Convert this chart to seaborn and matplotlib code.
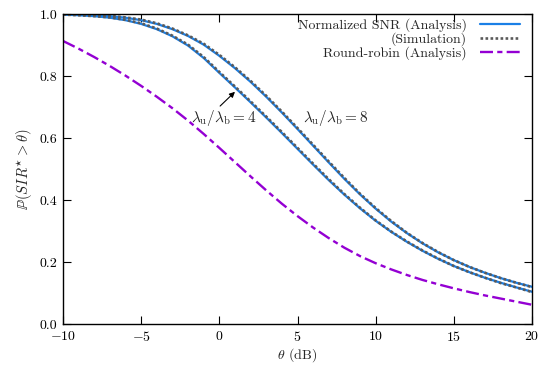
import seaborn as sns
import matplotlib.pyplot as plt
import pandas as pd

# SIR coverage vs threshold
theta_db = list(range(-10, 21))

snr_ana_8 = [0.999, 0.998, 0.996, 0.993, 0.988, 0.980, 0.968, 0.951, 0.929, 0.901,
             0.865, 0.825, 0.781, 0.733, 0.682, 0.629, 0.575, 0.521, 0.468, 0.418,
             0.372, 0.330, 0.293, 0.260, 0.231, 0.206, 0.184, 0.165, 0.148, 0.133, 0.120]
snr_sim_8 = [0.999, 0.998, 0.997, 0.994, 0.989, 0.982, 0.970, 0.953, 0.931, 0.904,
             0.868, 0.828, 0.784, 0.736, 0.685, 0.632, 0.578, 0.524, 0.471, 0.420,
             0.374, 0.332, 0.294, 0.261, 0.232, 0.206, 0.184, 0.165, 0.148, 0.133, 0.119]
snr_ana_4 = [0.998, 0.996, 0.993, 0.988, 0.980, 0.968, 0.951, 0.928, 0.898, 0.858,
             0.810, 0.763, 0.715, 0.666, 0.616, 0.565, 0.514, 0.464, 0.417, 0.373,
             0.333, 0.297, 0.265, 0.236, 0.210, 0.187, 0.167, 0.149, 0.133, 0.118, 0.104]
snr_sim_4 = [0.998, 0.996, 0.993, 0.989, 0.981, 0.970, 0.953, 0.930, 0.901, 0.861,
             0.813, 0.766, 0.718, 0.669, 0.619, 0.568, 0.517, 0.467, 0.419, 0.375,
             0.334, 0.298, 0.266, 0.237, 0.211, 0.187, 0.167, 0.149, 0.132, 0.118, 0.103]
rr_ana = [0.913, 0.888, 0.861, 0.832, 0.801, 0.768, 0.733, 0.696, 0.656, 0.613,
          0.568, 0.522, 0.476, 0.431, 0.388, 0.348, 0.311, 0.277, 0.246, 0.219,
          0.196, 0.176, 0.158, 0.142, 0.128, 0.115, 0.103, 0.092, 0.082, 0.072, 0.062]

x_ticks = [-10, -5, 0, 5, 10, 15, 20]
y_ticks = [0.0, 0.2, 0.4, 0.6, 0.8, 1.0]

df = pd.DataFrame({'theta': theta_db, 'ana8': snr_ana_8, 'sim8': snr_sim_8,
                   'ana4': snr_ana_4, 'sim4': snr_sim_4, 'rr': rr_ana})

sns.set_style('ticks')
plt.rcParams['font.family'] = 'serif'
plt.rcParams['font.serif'] = ['cmr10', 'DejaVu Serif']
plt.rcParams['mathtext.fontset'] = 'cm'
plt.rcParams['axes.formatter.use_mathtext'] = True
plt.rcParams['axes.unicode_minus'] = True

blue = '#1a7fe6'
gray = '#5a5a5a'
purple = '#9400d3'

fig = plt.figure(figsize=(5.39, 3.67), dpi=100)
ax = fig.add_axes([0.1169, 0.1172, 0.8701, 0.8447])

sns.lineplot(data=df, x='theta', y='ana8', ax=ax, color=blue, lw=1.6)
sns.lineplot(data=df, x='theta', y='ana4', ax=ax, color=blue, lw=1.6)
sns.lineplot(data=df, x='theta', y='sim8', ax=ax, color=gray, lw=1.9, linestyle=(0, (1.0, 0.9)))
sns.lineplot(data=df, x='theta', y='sim4', ax=ax, color=gray, lw=1.9, linestyle=(0, (1.0, 0.9)))
sns.lineplot(data=df, x='theta', y='rr', ax=ax, color=purple, lw=1.7,
             linestyle=(0, (5.5, 1.8, 2.2, 1.8)))

ax.set_xlim(-10, 20)
ax.set_ylim(0, 1)
ax.set_xticks(x_ticks)
ax.set_yticks(y_ticks)
ax.yaxis.set_major_formatter(plt.FormatStrFormatter('%.1f'))
ax.tick_params(direction='in', length=5.5, width=0.8, top=True, right=True,
               labelsize=10, colors='black', pad=4)
for s in ax.spines.values():
    s.set_linewidth(1.0)
    s.set_color('black')

ax.set_xlabel(r'$\theta$ (dB)', fontsize=10, labelpad=2)
ax.set_ylabel(r'$\mathbb{P}(\mathit{SIR}^{\star} > \theta)$', fontsize=10.5, labelpad=4)

ax.annotate('', xy=(1.0, 0.749), xytext=(0.05, 0.703),
            arrowprops=dict(arrowstyle='-|>', color='black', lw=0.8,
                            mutation_scale=8, shrinkA=0, shrinkB=0))
ax.text(0.3, 0.664, r'$\lambda_{\rm u}/\lambda_{\rm b} = 4$', fontsize=11,
        ha='center', va='center')
ax.text(7.45, 0.664, r'$\lambda_{\rm u}/\lambda_{\rm b} = 8$', fontsize=11,
        ha='center', va='center')

lines = ax.get_lines()
leg = ax.legend([lines[0], lines[2], lines[4]],
                ['Normalized SNR (Analysis)', '(Simulation)', 'Round-robin (Analysis)'],
                loc='upper right', bbox_to_anchor=(0.974, 0.985), frameon=False,
                markerfirst=False, fontsize=10, handlelength=2.9, handletextpad=0.9,
                labelspacing=0.0, borderpad=0, borderaxespad=0)
for t in leg.get_texts():
    t.set_ha('right')

fig.savefig('out.png', dpi=100)
